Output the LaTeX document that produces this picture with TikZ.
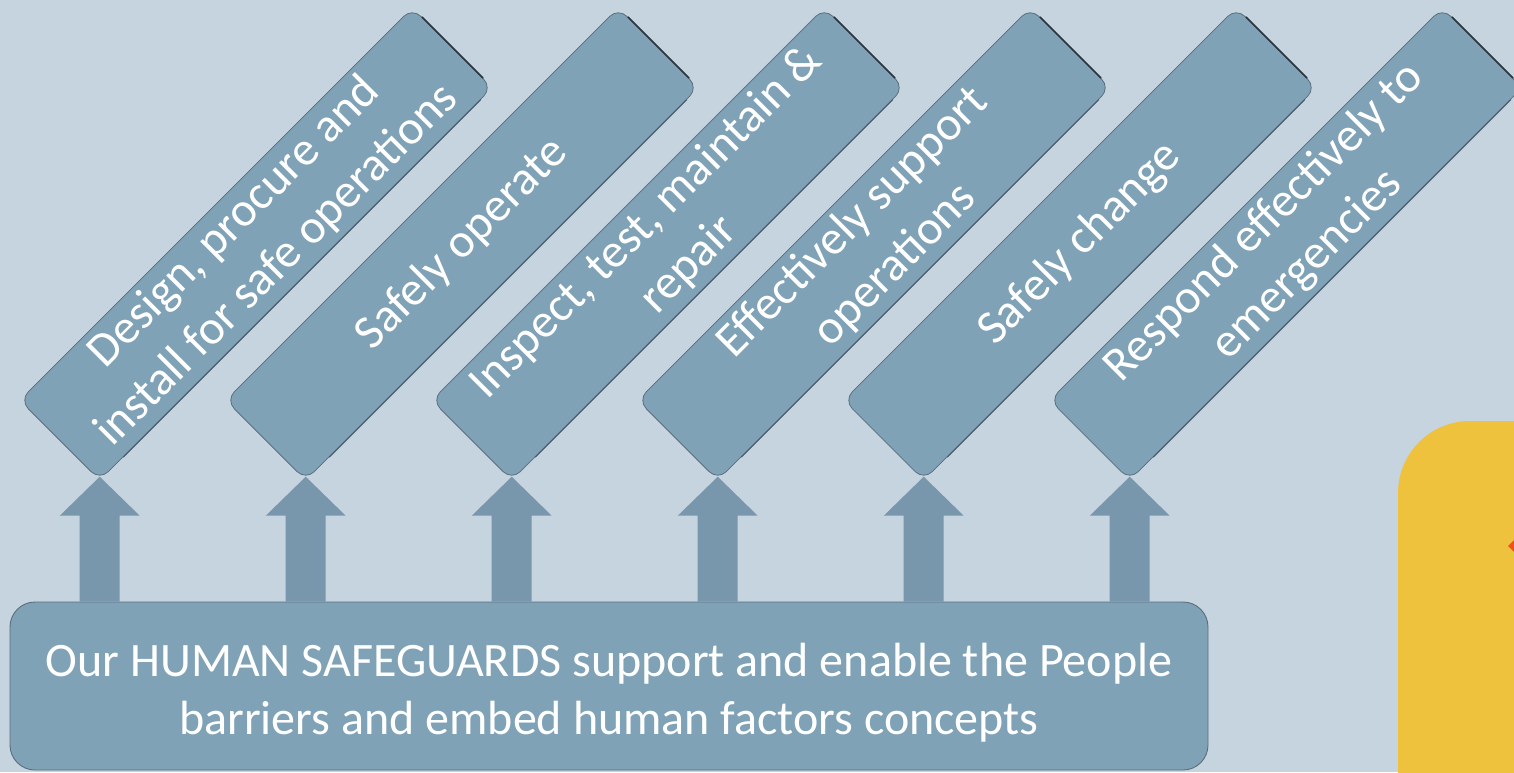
\documentclass[tikz,border=0pt]{standalone}
\usepackage{fontspec}
\setmainfont{Carlito}
\usepackage{tikz}
\usetikzlibrary{calc}
\definecolor{bgblue}{RGB}{197,212,223}
\definecolor{boxblue}{RGB}{128,162,183}
\definecolor{arrowblue}{RGB}{120,151,173}
\definecolor{edgeblue}{RGB}{90,110,124}
\definecolor{edgedark}{RGB}{40,52,62}
\definecolor{safeyellow}{RGB}{239,194,61}
\definecolor{alertred}{RGB}{240,80,30}

\begin{document}
\begin{tikzpicture}[x=1pt, y=1pt,
        barrier/.style={rotate=45, draw=edgeblue, line width=0.8pt, fill=boxblue,
            rounded corners=12pt, minimum width=555pt, minimum height=113pt,
            text=white, align=center, font=\fontsize{48}{60}\selectfont},
        support/.style={draw=edgeblue, line width=0.9pt, fill=boxblue,
            rounded corners=25pt, minimum width=1198pt, minimum height=168pt,
            text=white, align=center, font=\fontsize{48}{57.6}\selectfont}]
            \useasboundingbox (0,0) rectangle (1514,772);
            \fill[bgblue] (0,0) rectangle (1514,772);
            \fill[safeyellow, rounded corners=72pt] (1398,-100) -- (1398,351) -- (1700,351) -- (1700,-100) -- cycle;
            \fill[alertred] (1508,226) -- (1514,232) -- (1514,220) -- cycle;
            \node[support] (base) at (609,86) {\rule{0pt}{47pt}Our HUMAN SAFEGUARDS support and enable the People\\barriers and embed human factors concepts};
            \node[barrier] (b1) at (256,528) {Design, procure and\\install for safe operations};
            \node[barrier] (b2) at (462,528) {Safely operate};
            \node[barrier] (b3) at (668,528) {Inspect, test, maintain \&\\repair};
            \node[barrier] (b4) at (874,528) {Effectively support\\operations};
            \node[barrier] (b5) at (1080,528) {Safely change};
            \node[barrier] (b6) at (1286,528) {Respond effectively to\\emergencies};
            \foreach \i in {1,...,6} {
                \coordinate (tip\i) at ($(b\i.south west)+(0,4)$);
                \fill[arrowblue] (tip\i) -- ++(40,-39) -- ++(-20,0) |- ($(tip\i |- base.north)+(-20,0)$) |- ($(tip\i)+(-40,-39)$) -- cycle;
                \draw[edgedark, line width=1.6pt] ($(b\i.north east)!0.12!(b\i.south east)$) -- ($(b\i.north east)!0.88!(b\i.south east)$);
                \draw[edgedark!70!boxblue, line width=1pt] ($(b\i.south west)!0.06!(b\i.south east)$) -- ($(b\i.south west)!0.97!(b\i.south east)$);
            }
\end{tikzpicture}
\end{document}
